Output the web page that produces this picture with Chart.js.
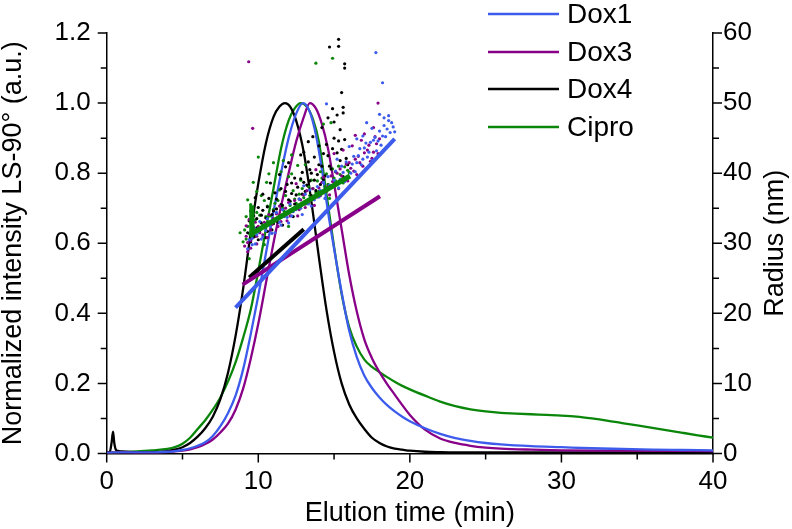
<!DOCTYPE html>
<html>
<head>
<meta charset="utf-8">
<script src="https://cdn.jsdelivr.net/npm/chart.js@4.4.1/dist/chart.umd.min.js"></script>
<style>
  html, body { margin: 0; padding: 0; background: #fff; }
</style>
</head>
<body>
<canvas id="chart" width="792" height="529"></canvas>
<script>
// LS-90 traces (left axis), time in min
const dox1Time = [0, 1, 2, 3, 4, 4.5, 5, 5.5, 6, 6.5, 7, 7.5, 8, 8.5, 9, 9.5, 10, 10.5, 11, 11.5, 12, 12.5, 12.95, 13.4, 13.8, 14.2, 14.6, 15, 15.5, 16, 16.5, 17, 17.5, 18, 18.5, 19, 19.5, 20, 21, 22, 23, 24, 25, 26, 28, 30, 32, 34, 36, 38, 40];
const dox1LS = [0.002, 0.003, 0.003, 0.003, 0.005, 0.007, 0.01, 0.015, 0.022, 0.032, 0.05, 0.078, 0.115, 0.165, 0.24, 0.34, 0.45, 0.57, 0.69, 0.8, 0.9, 0.97, 1.0, 0.975, 0.91, 0.81, 0.69, 0.585, 0.46, 0.35, 0.275, 0.222, 0.187, 0.16, 0.138, 0.12, 0.105, 0.092, 0.072, 0.056, 0.044, 0.036, 0.03, 0.026, 0.021, 0.018, 0.015, 0.013, 0.011, 0.01, 0.009];

const dox3Time = [0, 1, 2, 3, 4, 4.5, 5, 5.5, 6, 6.5, 7, 7.5, 8, 8.5, 9, 9.5, 10, 10.5, 11, 11.5, 12, 12.5, 13, 13.4, 13.8, 14.2, 14.6, 15, 15.5, 16, 16.5, 17, 17.5, 18, 18.5, 19, 19.5, 20, 21, 22, 23, 24, 25, 26, 28, 30, 34, 40];
const dox3LS = [0.002, 0.003, 0.002, 0.002, 0.004, 0.006, 0.008, 0.012, 0.018, 0.027, 0.04, 0.06, 0.085, 0.125, 0.185, 0.27, 0.37, 0.485, 0.6, 0.705, 0.8, 0.89, 0.96, 1.0, 0.985, 0.94, 0.87, 0.77, 0.64, 0.51, 0.405, 0.325, 0.272, 0.232, 0.198, 0.168, 0.138, 0.11, 0.068, 0.043, 0.03, 0.022, 0.017, 0.014, 0.011, 0.009, 0.008, 0.007];

const dox4Time = [0, 0.2, 0.32, 0.42, 0.5, 0.62, 0.8, 1, 2, 3, 4, 4.5, 5, 5.5, 6, 6.5, 7, 7.5, 8, 8.5, 9, 9.5, 10, 10.5, 11, 11.4, 11.76, 12.1, 12.5, 13, 13.5, 14, 14.5, 15, 15.5, 16, 16.5, 17, 17.5, 18, 18.5, 19, 19.5, 20, 21, 22, 24, 27, 30, 33, 36, 40];
const dox4LS = [0.003, 0.004, 0.03, 0.062, 0.03, 0.01, 0.007, 0.006, 0.004, 0.004, 0.007, 0.011, 0.018, 0.03, 0.048, 0.072, 0.105, 0.155, 0.23, 0.335, 0.47, 0.63, 0.77, 0.885, 0.96, 0.99, 1.0, 0.99, 0.95, 0.86, 0.72, 0.56, 0.41, 0.29, 0.2, 0.14, 0.1, 0.07, 0.045, 0.03, 0.02, 0.014, 0.011, 0.008, 0.005, 0.004, 0.003, 0.003, 0.003, 0.003, 0.003, 0.003];

const ciproTime = [0, 1, 2, 3, 4, 4.5, 5, 5.5, 6, 6.5, 7, 7.5, 8, 8.5, 9, 9.5, 10, 10.5, 11, 11.5, 12, 12.4, 12.8, 13.2, 13.6, 14, 14.5, 15, 15.5, 16, 16.5, 17, 17.5, 18, 18.5, 19, 19.5, 20, 21, 22, 23, 24, 25, 26, 27, 28, 29, 30, 31, 32, 33, 34, 35, 36, 37, 38, 39, 40];
const ciproLS = [0.003, 0.004, 0.006, 0.009, 0.013, 0.018, 0.028, 0.045, 0.07, 0.095, 0.125, 0.16, 0.205, 0.26, 0.33, 0.41, 0.52, 0.64, 0.755, 0.87, 0.95, 0.985, 1.0, 0.99, 0.955, 0.89, 0.74, 0.59, 0.455, 0.36, 0.305, 0.268, 0.247, 0.232, 0.218, 0.205, 0.193, 0.183, 0.165, 0.148, 0.135, 0.126, 0.12, 0.116, 0.114, 0.112, 0.11, 0.108, 0.105, 0.1, 0.094, 0.087, 0.08, 0.073, 0.066, 0.059, 0.052, 0.045];

// radius fits (right axis, nm)
const dox1FitTime = [8.5, 19.0];
const dox1FitR = [20.8, 44.9];
const dox3FitTime = [8.97, 18.03];
const dox3FitR = [24.1, 36.7];
const dox4FitTime = [9.4, 13.0];
const dox4FitR = [25.1, 32.0];
const ciproFitTime = [9.45, 9.55, 9.57, 9.6, 16.05];
const ciproFitR = [31.0, 31.3, 35.4, 31.4, 39.6];

// radius scatter points [time, radius]
const dox1Radius = [[9.4,30.5],[9.6,29.8],[9.9,31.2],[10.2,30.6],[10.5,31.8],[10.8,32.4],[11.1,31.5],[11.4,33.0],[11.7,33.8],[12.0,32.9],[12.3,34.5],[12.6,35.2],[12.9,34.1],[13.2,36.0],[13.5,35.3],[13.8,36.8],[14.1,37.5],[14.4,36.4],[14.7,38.3],[15.0,39.0],[15.3,37.9],[15.6,40.1],[15.9,39.4],[16.2,41.3],[16.4,40.2],[16.6,42.5],[16.8,41.2],[17.0,43.6],[17.2,42.3],[17.4,44.4],[17.5,41.8],[17.7,45.1],[17.8,43.2],[18.0,46.0],[18.1,44.0],[18.3,46.8],[18.4,45.2],[18.6,47.5],[18.7,45.8],[18.9,46.6],[16.0,43.8],[16.5,44.9],[17.15,47.2],[18.0,48.4],[18.6,48.2],[14.5,49.9],[17.76,57.2],[18.2,52.9],[15.2,42.0],[13.0,38.2],
  [9.3,29.2],[9.5,31.3],[9.6,30.7],[9.7,32.3],[9.8,29.9],[10.0,31.6],[10.1,33.1],[10.3,30.9],[10.4,32.2],[10.6,33.5],[10.9,31.4],[11.0,33.2],[11.2,34.4],[11.5,32.6],[11.6,34.8],[11.9,33.7],[12.1,35.6],[12.2,33.9],[12.5,34.8],[12.7,36.3],[12.8,35.0],[13.1,37.0],[13.3,35.6],[13.4,37.6],[13.7,36.2],[13.9,38.1],[14.0,36.6],[14.3,38.7],[14.5,37.6],[14.6,39.5],[14.9,38.2],[15.1,40.3],[15.4,39.1],[15.5,41.0],[15.7,38.8],[15.8,41.6],[16.1,40.0],[16.3,42.4],[16.5,41.5],[16.7,43.5],[16.9,42.0],[17.1,44.3],[17.3,43.0],[17.6,44.7],[17.9,44.6],[18.2,45.3],[18.5,46.3],[18.8,47.2],[19.0,45.9],[17.5,46.4],[18.3,47.9],[16.9,45.3]];
const dox3Radius = [[9.1,29.6],[9.2,31.0],[9.3,28.8],[9.5,30.4],[9.7,32.1],[9.9,29.9],[10.1,31.5],[10.4,33.0],[10.6,30.8],[10.9,32.7],[11.2,34.2],[11.5,33.1],[11.8,35.0],[12.1,33.9],[12.4,36.1],[12.7,34.8],[13.0,36.9],[13.3,35.7],[13.6,37.8],[13.9,36.6],[14.2,38.7],[14.5,37.4],[14.8,39.6],[15.1,38.5],[15.4,40.6],[15.7,39.2],[16.0,41.5],[16.3,40.3],[16.6,42.4],[16.9,41.0],[17.2,43.3],[17.5,42.1],[17.8,44.2],[16.2,43.9],[17.0,45.6],[17.6,46.5],[15.0,42.8],[13.8,40.5],[9.37,55.9],[9.63,46.4],[17.9,50.0],[12.5,38.5],
  [9.2,32.5],[9.3,30.1],[9.4,33.4],[9.5,29.3],[9.6,31.6],[9.8,33.0],[9.9,31.0],[10.0,32.4],[10.3,31.2],[10.5,32.8],[10.7,34.1],[10.8,31.9],[11.0,33.5],[11.3,32.4],[11.4,35.3],[11.6,34.0],[11.9,33.2],[12.0,35.8],[12.2,34.6],[12.5,35.3],[12.6,33.9],[12.8,36.2],[13.1,35.1],[13.2,37.5],[13.5,36.2],[13.7,35.4],[14.0,37.9],[14.1,36.8],[14.3,39.4],[14.6,38.1],[14.7,36.9],[14.9,38.8],[15.2,40.0],[15.3,37.8],[15.5,39.6],[15.8,41.3],[15.9,38.9],[16.1,40.7],[16.4,42.0],[16.5,39.8],[16.7,41.5],[17.0,42.9],[17.1,40.6],[17.3,44.0],[17.4,41.7],[17.6,43.0],[17.7,45.2],[17.9,42.8],[16.8,44.7],[16.4,45.4],[15.6,43.3],[18.0,44.9]];
const dox4Radius = [[9.3,31.5],[9.5,30.2],[9.6,32.8],[9.8,31.0],[9.9,33.5],[10.1,31.8],[10.2,34.0],[10.4,32.5],[10.5,30.8],[10.6,35.2],[10.8,33.1],[10.9,31.9],[11.0,34.6],[11.2,36.3],[11.3,33.0],[11.5,35.5],[11.6,32.6],[11.8,37.4],[11.9,34.2],[12.1,36.0],[12.2,38.6],[12.3,33.8],[12.5,36.9],[12.6,35.1],[12.8,39.2],[12.9,37.0],[13.1,35.6],[13.2,38.3],[13.4,40.5],[13.5,36.8],[13.7,39.0],[13.8,37.5],[14.0,41.2],[14.1,38.4],[14.3,42.8],[14.4,39.6],[14.6,37.9],[14.7,41.0],[14.9,43.5],[15.1,40.2],[15.3,44.6],[15.4,41.8],[15.6,39.5],[15.8,42.1],[9.8,36.5],[10.3,37.0],[11.4,39.8],[12.0,41.5],[13.0,43.0],[13.6,45.2],[14.2,46.5],[14.7,58.0],[15.3,59.1],[15.3,58.1],[15.7,55.6],[15.7,55.0],[15.5,51.5],[14.9,49.2],[15.6,49.4],[15.6,48.6],[15.0,47.3],
  [9.4,33.2],[9.5,34.6],[9.7,30.9],[9.7,33.9],[9.9,32.2],[10.0,30.5],[10.0,35.1],[10.2,32.9],[10.3,34.7],[10.5,33.6],[10.6,31.7],[10.7,36.4],[10.9,34.1],[11.0,32.8],[11.1,37.2],[11.2,34.9],[11.4,33.6],[11.5,37.8],[11.6,35.4],[11.7,34.0],[11.9,38.4],[12.0,36.2],[12.1,34.7],[12.2,37.1],[12.4,39.3],[12.4,35.6],[12.6,38.0],[12.7,36.3],[12.9,40.1],[13.0,38.7],[13.1,37.4],[13.3,41.6],[13.4,38.9],[13.5,40.0],[13.7,42.3],[13.9,39.8],[14.0,43.9],[14.2,41.0],[14.3,39.1],[14.5,44.1],[14.6,42.5],[14.8,40.6],[15.0,45.0],[15.2,42.9],[15.4,46.2],[15.5,43.4],[15.7,44.8],[15.9,41.2],[12.8,42.6],[13.3,44.5],[11.8,40.9],[10.8,38.6],[14.6,47.9],[15.2,48.3]];
const ciproRadius = [[8.8,31.5],[9.0,30.2],[9.2,33.8],[9.3,36.2],[9.67,38.7],[9.9,34.4],[10.2,36.8],[10.55,38.7],[10.8,33.9],[11.1,35.7],[11.4,37.6],[11.7,34.6],[12.0,39.5],[12.2,39.9],[12.4,36.3],[12.6,41.1],[12.9,37.8],[13.2,35.9],[13.5,39.0],[13.8,37.2],[14.1,40.2],[14.4,38.1],[14.7,36.4],[15.0,39.3],[15.3,41.0],[15.6,38.6],[15.9,40.4],[10.0,42.3],[11.0,41.5],[11.65,41.8],[14.3,47.0],[14.8,47.2],[13.8,55.7],[14.9,56.4],[9.4,27.8],[10.4,29.8],[12.0,32.4],
  [9.1,31.9],[9.2,30.6],[9.3,32.4],[9.5,33.0],[9.6,30.8],[9.7,31.9],[9.8,33.3],[10.0,32.0],[10.1,34.0],[10.3,32.6],[10.5,33.8],[10.6,35.3],[10.9,33.0],[11.0,34.8],[11.2,33.5],[11.3,36.1],[11.6,35.0],[11.8,36.8],[11.9,34.3],[12.1,35.4],[12.3,37.5],[12.5,35.7],[12.7,37.0],[12.8,39.0],[13.0,36.5],[13.3,38.1],[13.4,36.8],[13.6,37.8],[13.9,38.9],[14.0,37.4],[14.2,39.3],[14.5,39.9],[14.6,38.4],[14.9,40.6],[15.1,38.9],[15.4,39.8],[15.7,40.9],[15.8,39.3],[16.0,40.1],[9.9,37.4],[10.7,39.9],[11.5,40.2],[10.4,36.1],[9.5,35.5],[12.2,42.6],[13.1,41.2]];

const seriesNames = ['Dox1', 'Dox3', 'Dox4', 'Cipro'];
const seriesColors = ['#3d5cec', '#880088', '#000000', '#0a860a'];

const FONT = "'Liberation Sans', Arial, sans-serif";
Chart.defaults.font.family = FONT;
Chart.defaults.color = '#000';

const zip = (xs, ys) => xs.map((x, i) => ({ x: x, y: ys[i] }));
const pts = (arr) => arr.map((p) => ({ x: p[0], y: p[1] }));

const lsSets = [[dox1Time, dox1LS], [dox3Time, dox3LS], [dox4Time, dox4LS], [ciproTime, ciproLS]];
const fitSets = [[dox1FitTime, dox1FitR], [dox3FitTime, dox3FitR], [dox4FitTime, dox4FitR], [ciproFitTime, ciproFitR]];
const radiusSets = [dox1Radius, dox3Radius, dox4Radius, ciproRadius];

const datasets = [];
seriesNames.forEach((name, i) => {
  datasets.push({
    type: 'line', label: name + ' fit', data: zip(fitSets[i][0], fitSets[i][1]), yAxisID: 'y2',
    borderColor: seriesColors[i], borderWidth: i === 3 ? 5 : 4, pointRadius: 0, tension: 0,
  });
});
seriesNames.forEach((name, i) => {
  datasets.push({
    type: 'scatter', label: name + ' radius', data: pts(radiusSets[i]), yAxisID: 'y2',
    backgroundColor: seriesColors[i], borderWidth: 0, pointRadius: 1.6,
  });
});
seriesNames.forEach((name, i) => {
  datasets.push({
    type: 'line', label: name, data: zip(lsSets[i][0], lsSets[i][1]), yAxisID: 'y',
    borderColor: seriesColors[i], borderWidth: 2.3, pointRadius: 0, cubicInterpolationMode: 'monotone',
  });
});

// outward tick marks with minor ticks, legend, right title
const decorations = {
  id: 'decorations',
  afterDraw(chart) {
    const ctx = chart.ctx;
    const a = chart.chartArea;
    const { x, y, y2 } = chart.scales;
    ctx.save();
    ctx.strokeStyle = '#000';
    ctx.lineWidth = 1.5;
    ctx.beginPath();
    for (let v = 0; v <= 40; v += 5) {
      const px = x.getPixelForValue(v);
      ctx.moveTo(px, a.bottom);
      ctx.lineTo(px, a.bottom + (v % 10 === 0 ? 9 : 6));
    }
    for (let k = 0; k <= 12; k++) {
      const py = y.getPixelForValue(k / 10);
      ctx.moveTo(a.left, py);
      ctx.lineTo(a.left - (k % 2 === 0 ? 9 : 6), py);
    }
    for (let v = 0; v <= 60; v += 5) {
      const py = y2.getPixelForValue(v);
      ctx.moveTo(a.right, py);
      ctx.lineTo(a.right + (v % 10 === 0 ? 9 : 6), py);
    }
    ctx.stroke();

    // legend
    ctx.font = '28px ' + FONT;
    ctx.textBaseline = 'middle';
    ctx.textAlign = 'left';
    const rows = [14, 52, 89, 127];
    seriesNames.forEach((name, i) => {
      ctx.strokeStyle = seriesColors[i];
      ctx.lineWidth = 2.5;
      ctx.beginPath();
      ctx.moveTo(488, rows[i]);
      ctx.lineTo(559, rows[i]);
      ctx.stroke();
      ctx.fillStyle = '#000';
      ctx.fillText(name, 567, rows[i] + 1);
    });

    // right axis title, reading bottom to top
    ctx.translate(783, (a.top + a.bottom) / 2);
    ctx.rotate(-Math.PI / 2);
    ctx.textAlign = 'center';
    ctx.textBaseline = 'alphabetic';
    ctx.font = '27px ' + FONT;
    ctx.fillText('Radius (nm)', 0, 0);
    ctx.restore();
  }
};

const axisBorder = { display: true, color: '#000', width: 1.5 };
const noGrid = { display: false, drawTicks: false };

new Chart(document.getElementById('chart'), {
  data: { datasets: datasets },
  options: {
    responsive: false,
    animation: false,
    layout: { padding: { top: 33, left: 0, right: 0, bottom: 0 } },
    plugins: { legend: { display: false }, tooltip: { enabled: false } },
    scales: {
      x: {
        type: 'linear', min: 0, max: 40,
        grid: noGrid, border: axisBorder,
        ticks: { stepSize: 10, font: { size: 26 }, padding: 13, maxRotation: 0 },
        title: { display: true, text: 'Elution time (min)', font: { size: 27, lineHeight: 1 }, padding: { top: 0, bottom: 2 } },
        afterFit(s) { s.height = 75.5; }
      },
      y: {
        position: 'left', min: 0, max: 1.2,
        grid: noGrid, border: axisBorder,
        ticks: { stepSize: 0.2, font: { size: 26 }, padding: 16, callback: (v) => v.toFixed(1) },
        title: { display: true, text: 'Normalized intensity LS-90° (a.u.)', font: { size: 27, lineHeight: 1 }, padding: { top: 0, bottom: 0 } },
        afterFit(s) { s.width = 106.7; }
      },
      y2: {
        position: 'right', min: 0, max: 60,
        grid: noGrid, border: axisBorder,
        ticks: { stepSize: 10, font: { size: 26 }, padding: 10 },
        afterFit(s) { s.width = 79; }
      }
    }
  },
  plugins: [decorations]
});
</script>
</body>
</html>
